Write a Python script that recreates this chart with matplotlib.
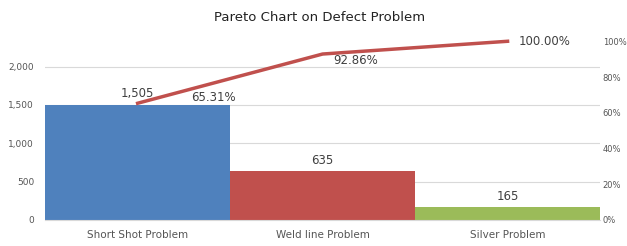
import numpy as np
import matplotlib.pyplot as plt
from matplotlib.ticker import FuncFormatter

categories = ['Short Shot Problem', 'Weld line Problem', 'Silver Problem']
counts = [1505, 635, 165]
cum_pct = [65.31, 92.86, 100.00]
bar_colors = ['#4F81BD', '#C0504D', '#9BBB59']

fig = plt.figure(figsize=(6.27, 2.46), dpi=100)
ax = fig.add_axes([0.072, 0.106, 0.885, 0.748])
x = np.arange(len(categories))

ax.bar(x, counts, width=1.0, color=bar_colors, zorder=2)
ax.set_xlim(-0.5, 2.5)
ax.set_ylim(0, 2400)
ax.set_yticks([0, 500, 1000, 1500, 2000])
ax.yaxis.set_major_formatter(FuncFormatter(lambda v, p: f'{int(v):,}'))
ax.grid(axis='y', color='#d9d9d9', lw=0.8, zorder=0)
ax.set_xticks(x)
ax.set_xticklabels(categories, fontsize=7.5, color='#555555')
ax.tick_params(axis='y', labelsize=6.5, colors='#555555', length=0, pad=8)
ax.tick_params(axis='x', length=0, pad=7)
for s in ['top', 'right', 'left']:
    ax.spines[s].set_visible(False)
ax.spines['bottom'].set_color('#d9d9d9')

for xi, c in zip(x, counts):
    ax.text(xi, c + 60, f'{c:,}', ha='center', va='bottom', fontsize=8.5, color='#404040')

ax2 = ax.twinx()
ax2.plot(x, np.array(cum_pct) / 100, color='#C0504D', lw=2.5, zorder=3, clip_on=False)
ax2.set_ylim(0, 1.03)
ax2.set_yticks(np.arange(0, 1.01, 0.2))
ax2.yaxis.set_major_formatter(FuncFormatter(lambda v, p: f'{v * 100:.0f}%'))
ax2.tick_params(axis='y', labelsize=6, colors='#555555', length=0, pad=2)
for s in ['top', 'right', 'left', 'bottom']:
    ax2.spines[s].set_visible(False)

offsets = [(0.29, 0.03), (0.06, -0.035), (0.06, 0.0)]
for xi, p, (dx, dy) in zip(x, cum_pct, offsets):
    ax2.text(xi + dx, p / 100 + dy, f'{p:.2f}%', ha='left', va='center', fontsize=8.5, color='#404040')

fig.suptitle('Pareto Chart on Defect Problem', x=0.51, y=0.955, fontsize=9.5, color='#222222')

plt.savefig('out.png', dpi=100)
